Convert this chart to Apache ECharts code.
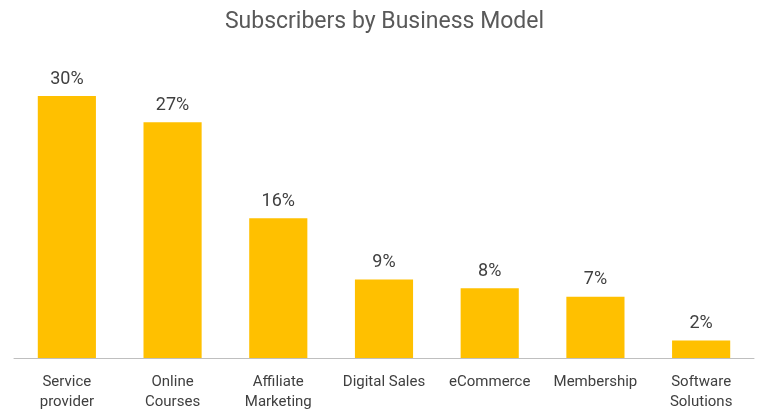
<!DOCTYPE html>
<html>
<head>
<meta charset="utf-8">
<script src="https://cdn.jsdelivr.net/npm/echarts@6/dist/echarts.min.js"></script>
<style>html,body{margin:0;background:#fff}#chart{width:769px;height:418px}</style>
</head>
<body>
<div id="chart"></div>
<script>
var categories = ['Service\nprovider', 'Online\nCourses', 'Affiliate\nMarketing', 'Digital Sales', 'eCommerce', 'Membership', 'Software\nSolutions'];
var values = [30, 27, 16, 9, 8, 7, 2];

var chart = echarts.init(document.getElementById('chart'));
chart.setOption({
  animation: false,
  textStyle: { fontFamily: 'Roboto' },
  title: {
    text: 'Subscribers by Business Model',
    left: 'center', top: 6,
    textStyle: { fontSize: 23, fontWeight: 'normal', color: '#595959', fontFamily: 'Roboto' }
  },
  grid: { left: 14, right: 15, top: 96, bottom: 60 },
  xAxis: {
    type: 'category',
    data: categories,
    axisTick: { show: false },
    axisLine: { lineStyle: { color: '#bfbfbf' } },
    axisLabel: { color: '#404040', fontSize: 15, lineHeight: 20, margin: 14, interval: 0 }
  },
  yAxis: { type: 'value', min: 0, max: 30, show: false },
  series: [{
    type: 'bar',
    data: values,
    barWidth: '55%',
    itemStyle: { color: '#FFC000' },
    label: {
      show: true, position: 'top', distance: 8,
      formatter: '{c}%', fontSize: 18, color: '#404040'
    }
  }]
});
</script>
</body>
</html>
